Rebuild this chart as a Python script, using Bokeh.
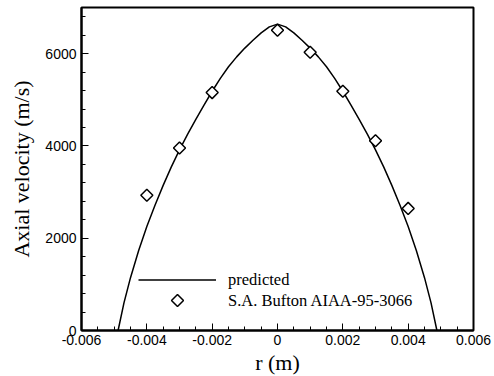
import numpy as np
from bokeh.plotting import figure
from bokeh.models import (FixedTicker, CustomJSTickFormatter, Range1d, Legend, LegendItem,
                          PolyAnnotation)
from bokeh.embed import file_html
from bokeh.resources import INLINE

# predicted axial velocity profile
r_pred = [-0.00488, -0.0047, -0.0045, -0.00425, -0.004, -0.00375, -0.0035, -0.00325, -0.003,
          -0.00275, -0.0025, -0.00225, -0.002, -0.00175, -0.0015, -0.00125, -0.001, -0.00075,
          -0.0005, -0.00025, 0.0,
          0.00025, 0.0005, 0.00075, 0.001, 0.00125, 0.0015, 0.00175, 0.002, 0.00225,
          0.0025, 0.00275, 0.003, 0.00325, 0.0035, 0.00375, 0.004, 0.00425, 0.0045,
          0.0047, 0.00488]
v_pred = [0, 600, 1145, 1735, 2255, 2715, 3145, 3545, 3915,
          4255, 4575, 4885, 5185, 5465, 5715, 5930, 6120, 6290,
          6450, 6580, 6640,
          6580, 6450, 6290, 6120, 5930, 5715, 5465, 5185, 4885,
          4575, 4255, 3915, 3545, 3145, 2715, 2255, 1735, 1145,
          600, 0]

# experimental data (S.A. Bufton AIAA-95-3066)
r_exp = [-0.004, -0.003, -0.002, 0.0, 0.001, 0.002, 0.003, 0.004]
v_exp = [2930, 3955, 5156, 6508, 6030, 5184, 4114, 2646]

x_major = [-0.006, -0.004, -0.002, 0.0, 0.002, 0.004, 0.006]
x_minor = [round(-0.006 + 0.0005 * i, 4) for i in range(25)]
y_major = [0, 2000, 4000, 6000]
y_minor = [400 * i for i in range(18)]

p = figure(frame_width=392, frame_height=323, output_backend="svg", toolbar_location=None,
           x_range=Range1d(-0.006, 0.006), y_range=Range1d(0, 7000),
           min_border_left=81, min_border_right=21, min_border_top=7, min_border_bottom=46)
p.xgrid.visible = False
p.ygrid.visible = False
p.outline_line_color = "black"
p.outline_line_width = 2
p.background_fill_color = "white"
p.border_fill_color = "white"

line_r = p.line(r_pred, v_pred, line_color="black", line_width=1.5)
pts_r = p.scatter(r_exp, v_exp, marker="square", angle=np.pi / 4, size=8.5,
                  fill_color="white", line_color="black", line_width=1.5)
# invisible stand-in so the legend label is laid out; the rotated key is drawn below
key_r = p.scatter([], [], marker="square", size=0, fill_alpha=0, line_alpha=0)

for ax, major, minor, code in ((p.xaxis[0], x_major, x_minor,
                                 "return Math.abs(tick) < 1e-12 ? '0' : tick.toFixed(3);"),
                                (p.yaxis[0], y_major, y_minor,
                                 "return tick.toFixed(0);")):
    ax.ticker = FixedTicker(ticks=major, minor_ticks=minor)
    ax.formatter = CustomJSTickFormatter(code=code)
    ax.major_tick_in = 7
    ax.major_tick_out = 0
    ax.minor_tick_in = 4
    ax.minor_tick_out = 0
    ax.axis_line_width = 2
    ax.major_tick_line_width = 1
    ax.minor_tick_line_width = 1
    ax.major_label_text_font = "Liberation Sans"
    ax.major_label_text_font_size = "14px"
    ax.major_label_text_color = "black"
    ax.axis_label_text_font = "Liberation Serif"
    ax.axis_label_text_font_size = "22px"
    ax.axis_label_text_font_style = "normal"
    ax.axis_label_text_color = "black"

p.xaxis[0].axis_label = "r (m)"
p.yaxis[0].axis_label = "Axial velocity (m/s)"
p.xaxis[0].major_label_standoff = 4
p.yaxis[0].major_label_standoff = 5
p.xaxis[0].axis_label_standoff = 2
p.yaxis[0].axis_label_standoff = 8

legend = Legend(items=[LegendItem(label="predicted", renderers=[line_r]),
                       LegendItem(label="S.A. Bufton AIAA-95-3066", renderers=[key_r])],
                location=(57, 19), orientation="vertical",
                glyph_width=78, glyph_height=21, label_height=21, label_standoff=12,
                spacing=0, padding=0, margin=0,
                label_text_font="Liberation Serif", label_text_font_size="16.5px",
                label_text_color="black",
                background_fill_alpha=0, border_line_alpha=0)
p.add_layout(legend, "center")

# legend key: diamond centred on the second legend row (frame-relative screen units)
kx, ky, kh = 96, 30, 6
p.add_layout(PolyAnnotation(xs=[kx - kh, kx, kx + kh, kx], ys=[ky, ky + kh, ky, ky - kh],
                            xs_units="screen", ys_units="screen",
                            fill_color="white", fill_alpha=1,
                            line_color="black", line_alpha=1, line_width=1.5))

open("out.html", "w").write(file_html(p, INLINE))
